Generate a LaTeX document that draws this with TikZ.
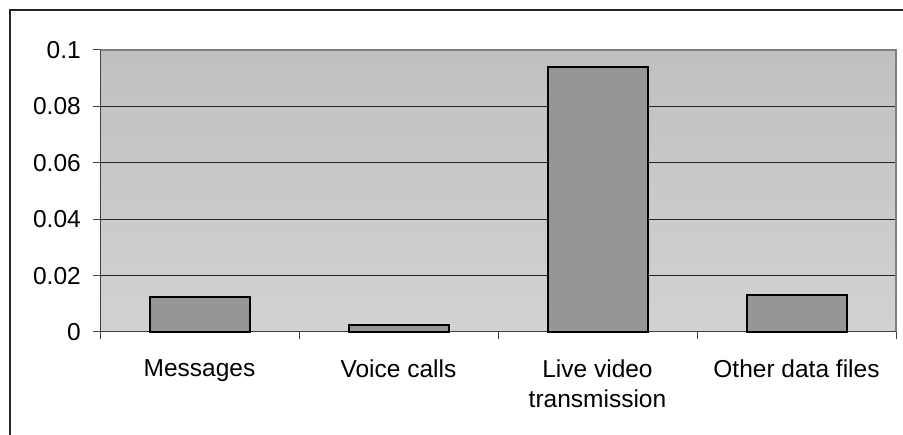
\documentclass[tikz,border=0pt]{standalone}
\usepackage{fontspec}
\setmainfont{Liberation Sans}
\usepackage{tikz}
\usepackage{xcolor}
\definecolor{plottop}{RGB}{192,192,192}
\definecolor{plotbottom}{RGB}{210,210,210}
\definecolor{barfill}{RGB}{150,150,150}
\definecolor{plotedge}{RGB}{128,128,128}
\newcommand{\PlotLeft}{100}
\newcommand{\PlotRight}{896}
\newcommand{\PlotBase}{103}
\newcommand{\PlotTop}{385}
\newcommand{\CatWidth}{199}
\newcommand{\BarHalf}{50}
\newcommand{\ValScale}{2820}

\begin{document}
\begin{tikzpicture}[x=1pt,y=1pt,font=\fontsize{24.5}{30}\selectfont]
\useasboundingbox (0,0) rectangle (903,435);
\coordinate (O) at (\PlotLeft,\PlotBase);
\coordinate (A) at (\PlotLeft,\PlotTop);
\coordinate (B) at (\PlotRight,\PlotTop);
\coordinate (C) at (\PlotRight,\PlotBase);

\draw[black!85,line width=1.3pt] (10,0) -- (10,425) -- (903,425);% Outer frame
\shade[top color=plottop,bottom color=plotbottom] (O) rectangle (B);% Plot area
\foreach \v in {1,2,3,4}{
    \draw[black!85,line width=1pt] (\PlotLeft,\PlotBase+\v*56.4) -- (\PlotRight,\PlotBase+\v*56.4);% Grid
}
\draw[plotedge,line width=1.5pt] (A) -- (B) -- (C);% Plot border
\draw[black!75,line width=1pt] (A) -- (O) -- (C);% Axes

% Bars
\foreach \i/\val in {1/0.0123, 2/0.0025, 3/0.0941, 4/0.0131}{
    \draw[black,line width=2pt,fill=barfill]
        (\PlotLeft+\i*\CatWidth-0.5*\CatWidth-\BarHalf,\PlotBase) rectangle
        (\PlotLeft+\i*\CatWidth-0.5*\CatWidth+\BarHalf,\PlotBase+\val*\ValScale);
}

% Ticks and value labels
\foreach \v/\txt in {0/0, 1/0.02, 2/0.04, 3/0.06, 4/0.08, 5/0.1}{
    \draw[black!75,line width=1pt] (\PlotLeft-7,\PlotBase+\v*56.4) -- (\PlotLeft,\PlotBase+\v*56.4);
    \node[anchor=east,inner sep=0pt] (ylab\v) at (81,\PlotBase+\v*56.4) {\txt};
}
\foreach \k in {0,...,4}{
    \draw[black!75,line width=1pt] (\PlotLeft+\k*\CatWidth,\PlotBase) -- (\PlotLeft+\k*\CatWidth,\PlotBase-7);
}

% Category labels
\foreach \i/\txt in {1/Messages, 2/Voice calls, 3/{Live video\\transmission}, 4/Other data files}{
    \node[anchor=north,inner sep=0pt,align=center] (cat\i) at (\PlotLeft+\i*\CatWidth-0.5*\CatWidth,75.8) {\txt};
}
\end{tikzpicture}
\end{document}
